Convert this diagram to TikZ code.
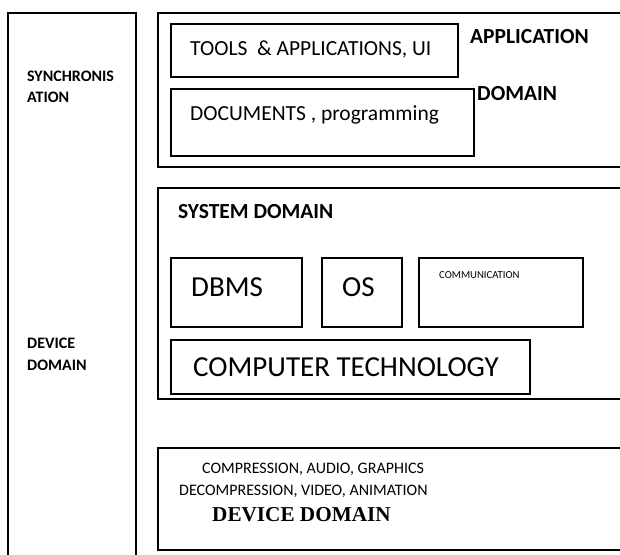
\documentclass[tikz,border=0pt]{standalone}
\usepackage{fontspec}
\setmainfont{Carlito}
\newfontfamily\tnr{Liberation Serif}
\begin{document}
\begin{tikzpicture}[x=1pt,y=-1pt,
  box/.style={draw=black,line width=1.6pt,rectangle,inner sep=0pt,anchor=north west},
  lbl/.style={inner sep=0pt,anchor=base west},
  small/.style={font=\bfseries\fontsize{16}{19}\selectfont},
  mid/.style={font=\fontsize{21.5}{25}\selectfont},
  midb/.style={font=\bfseries\fontsize{21.5}{25}\selectfont},
  big/.style={font=\fontsize{29}{33}\selectfont},
  body/.style={font=\fontsize{16}{19}\selectfont}]
\useasboundingbox (0,0) rectangle (620,554);
% outer boxes
\node[box,minimum width=128pt,minimum height=560pt] (sync) at (7,12) {};
\node[box,minimum width=480pt,minimum height=154pt] (app) at (157,12) {};
\node[box,minimum width=480pt,minimum height=211pt] (sys) at (157,187) {};
\node[box,minimum width=480pt,minimum height=102pt] (dev) at (157,447) {};
% inner boxes
\node[box,minimum width=287pt,minimum height=53pt] (tools) at (170,23) {};
\node[box,minimum width=303pt,minimum height=67pt] (docs) at (170,88) {};
\node[box,minimum width=131pt,minimum height=69pt] (dbms) at (170,257) {};
\node[box,minimum width=80pt,minimum height=69pt] (os) at (321,257) {};
\node[box,minimum width=164pt,minimum height=69pt] (comm) at (418,257) {};
\node[box,minimum width=359pt,minimum height=54pt] (ct) at (170,339) {};
% labels
\node[lbl,small] (t1) at (27,81.7) {SYNCHRONIS};
\node[lbl,small] (t2) at (27,102.7) {ATION};
\node[lbl,small] (t3) at (27,348.3) {DEVICE};
\node[lbl,small] (t4) at (27,370.7) {DOMAIN};
\node[lbl,mid] (t5) at (190,55) {TOOLS\ \ \& APPLICATIONS, UI};
\node[lbl,mid] (t6) at (190,120) {DOCUMENTS , programming};
\node[lbl,midb] (t7) at (470,43.3) {APPLICATION};
\node[lbl,midb] (t8) at (477,100) {DOMAIN};
\node[lbl,midb] (t9) at (178,218.3) {SYSTEM DOMAIN};
\node[lbl,big] (t10) at (191,296.7) {DBMS};
\node[lbl,big] (t11) at (342,296.7) {OS};
\node[lbl,font=\fontsize{10.7}{13}\selectfont] (t12) at (439,278.3) {COMMUNICATION};
\node[lbl,big] (t13) at (193,376.7) {COMPUTER TECHNOLOGY};
\node[lbl,body] (t14) at (202,473.3) {COMPRESSION, AUDIO, GRAPHICS};
\node[lbl,body] (t15) at (179,495) {DECOMPRESSION, VIDEO, ANIMATION};
\node[lbl,font=\tnr\bfseries\fontsize{21.2}{25}\selectfont] (t16) at (212,521.7) {DEVICE DOMAIN};
\end{tikzpicture}
\end{document}
